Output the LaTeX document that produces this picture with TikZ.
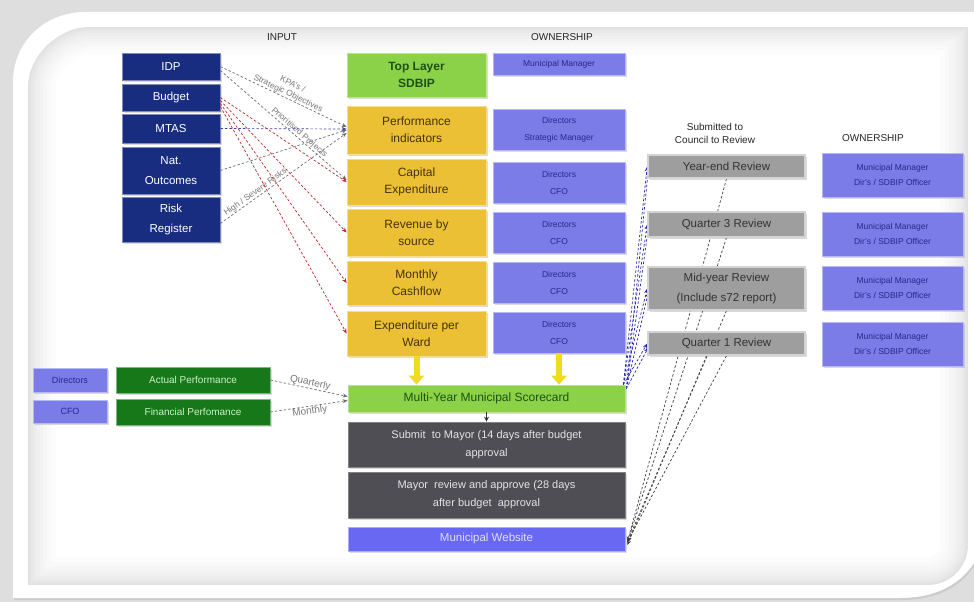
\documentclass[tikz,border=0pt]{standalone}
\usepackage{fontspec}
\setmainfont{Liberation Sans}
\usetikzlibrary{arrows.meta,shadows,backgrounds,calc}
\definecolor{navyc}{RGB}{24,44,128}
\definecolor{topgreen}{RGB}{140,210,72}
\definecolor{topgreentxt}{RGB}{30,80,20}
\definecolor{goldc}{RGB}{236,192,52}
\definecolor{goldtxt}{RGB}{70,50,10}
\definecolor{purplec}{RGB}{124,124,232}
\definecolor{purpletxt}{RGB}{40,40,140}
\definecolor{dgreen}{RGB}{22,120,24}
\definecolor{dgreentxt}{RGB}{205,240,205}
\definecolor{dgray}{RGB}{78,78,84}
\definecolor{dgraytxt}{RGB}{228,228,228}
\definecolor{revgray}{RGB}{158,158,158}
\definecolor{webc}{RGB}{104,104,242}
\definecolor{webtxt}{RGB}{222,222,255}
\definecolor{yelarrow}{RGB}{240,220,30}
\definecolor{redline}{RGB}{190,40,40}
\definecolor{blueline}{RGB}{40,40,170}
\definecolor{grayline}{RGB}{110,110,120}
\definecolor{labelgray}{RGB}{120,120,120}
\begin{document}
\begin{tikzpicture}[x=1pt,y=-1pt,
  base/.style={draw, line width=0.7pt, align=center, inner sep=1pt,
    drop shadow={opacity=0.28, shadow xshift=2pt, shadow yshift=-2pt}},
  navybox/.style={base, fill=navyc, draw=navyc!55!white, text=white,
    font=\fontsize{11.5}{20}\selectfont, minimum width=98pt},
  topbox/.style={base, fill=topgreen, draw=topgreen!60!white, text=topgreentxt,
    font=\bfseries\fontsize{12}{17}\selectfont, minimum width=139pt},
  goldbox/.style={base, fill=goldc, draw=goldc!55!white, text=goldtxt,
    font=\fontsize{12}{17}\selectfont, minimum width=139pt},
  ownbox/.style={base, fill=purplec, draw=purplec!55!white, text=purpletxt,
    font=\fontsize{8.5}{17}\selectfont, minimum width=132pt},
  greenbox/.style={base, fill=dgreen, draw=dgreen!55!white, text=dgreentxt,
    font=\fontsize{10}{12}\selectfont, minimum width=154pt},
  smallown/.style={base, fill=purplec, draw=purplec!55!white, text=purpletxt,
    font=\fontsize{9}{12}\selectfont, minimum width=74pt},
  scorebox/.style={base, fill=topgreen, draw=topgreen!60!white, text=topgreentxt,
    font=\fontsize{12}{15}\selectfont, minimum width=277pt},
  graybox/.style={base, fill=dgray, draw=dgray!70!white, text=dgraytxt,
    font=\fontsize{11}{18}\selectfont, minimum width=277pt},
  webbox/.style={base, fill=webc, draw=webc!55!white, text=webtxt,
    font=\fontsize{11.5}{14}\selectfont, minimum width=277pt},
  revbox/.style={base, fill=revgray, draw=revgray!45!white, line width=1.5pt, text=black!80,
    font=\fontsize{11.5}{20}\selectfont, minimum width=157pt},
  rownbox/.style={base, fill=purplec, draw=purplec!55!white, text=purpletxt,
    font=\fontsize{8.5}{15}\selectfont, minimum width=141pt, minimum height=44pt},
  hdr/.style={font=\fontsize{10}{13}\selectfont, text=black!85, align=center},
  lbl/.style={font=\fontsize{8.5}{10}\selectfont, text=labelgray, align=center, inner sep=0.5pt},
  dsh/.style={dash pattern=on 2.5pt off 2pt, line width=0.7pt},
  tip/.style={-{Stealth[length=5pt,width=4pt]}},
  yarrow/.style={yelarrow, line width=6pt, -{Triangle[width=15pt,length=9pt]}}
]
\useasboundingbox (0,0) rectangle (974,602);
\def\panelpath{(28,585) -- (28,87) .. controls (28,54) and (61,27) .. (88,27) -- (968,27) -- (968,545) .. controls (968,567) and (950,585) .. (928,585) -- cycle}
\begin{pgfonlayer}{background}
  \fill[black!13] (0,0) rectangle (974,602);
  \fill[black!20] (14,84) .. controls (14,44) and (46,14) .. (86,14) -- (990,14) -- (990,502) .. controls (990,562) and (962,600) .. (902,600) -- (14,600) -- cycle;
  \fill[white] (13,82) .. controls (13,42) and (45,12) .. (85,12) -- (990,12) -- (990,500) .. controls (990,560) and (960,598) .. (900,598) -- (13,598) -- cycle;
  \fill[white] \panelpath;
  \begin{scope}
    \clip \panelpath;
    \foreach \w in {56,46,38,30,24,18,13,9,6,3}{
      \draw[black, opacity=0.011, line width=\w pt] \panelpath;
    }
  \end{scope}
\end{pgfonlayer}

% headers
\node[hdr] (hin) at (282,37) {INPUT};
\node[hdr] (hown) at (562,37) {OWNERSHIP};
\node[hdr] (hsub) at (715,133) {Submitted to\\Council to Review};
\node[hdr] (hown2) at (873,138) {OWNERSHIP};

% inputs
\node[navybox, minimum height=27pt] (idp) at (171,66.5) {IDP};
\node[navybox, minimum height=27pt] (bud) at (171,97.5) {Budget};
\node[navybox, minimum height=29pt] (mtas) at (171,128.5) {MTAS};
\node[navybox, minimum height=47pt] (nat) at (171,170.5) {Nat.\\Outcomes};
\node[navybox, minimum height=45pt] (risk) at (171,219.5) {Risk\\Register};

% SDBIP column
\node[topbox, minimum height=44pt] (top) at (416.5,75) {Top Layer\\SDBIP};
\node[goldbox, minimum height=48pt] (pi) at (416.5,130) {Performance\\indicators};
\node[goldbox, minimum height=46pt] (ce) at (416.5,182) {Capital\\Expenditure};
\node[goldbox, minimum height=47pt] (rev) at (416.5,232.5) {Revenue by\\source};
\node[goldbox, minimum height=44pt] (mc) at (416.5,283) {Monthly\\Cashflow};
\node[goldbox, minimum height=45pt] (epw) at (416.5,333.5) {Expenditure per\\Ward};

% ownership column
\node[ownbox, minimum height=22pt, font=\fontsize{8.5}{10}\selectfont] (mm) at (559,64) {Municipal Manager};
\node[ownbox, minimum height=41pt] (o1) at (559,129.5) {Directors\\Strategic Manager};
\node[ownbox, minimum height=41pt] (o2) at (559,182.5) {Directors\\CFO};
\node[ownbox, minimum height=41pt] (o3) at (559,232.5) {Directors\\CFO};
\node[ownbox, minimum height=41pt] (o4) at (559,282.5) {Directors\\CFO};
\node[ownbox, minimum height=41pt] (o5) at (559,332.5) {Directors\\CFO};

% bottom stack
\node[scorebox, minimum height=27pt] (score) at (486.5,398.5) {Multi-Year Municipal Scorecard};
\node[graybox, minimum height=45pt] (sub) at (486.5,444.5) {Submit\ \ to Mayor (14 days after budget\\approval};
\node[graybox, minimum height=46pt] (may) at (486.5,495) {Mayor\ \ review and approve (28 days\\after budget\ \ approval};
\node[webbox, minimum height=24pt] (web) at (486.5,539) {Municipal Website};

% left performance
\node[smallown, minimum height=24pt] (dir) at (70,380) {Directors};
\node[smallown, minimum height=23pt] (cfo) at (70,411.5) {CFO};
\node[greenbox, minimum height=26pt] (ap) at (193,380) {Actual Performance};
\node[greenbox, minimum height=26pt] (fp) at (193,412) {Financial Perfomance};

% reviews
\node[revbox, minimum height=23pt] (ye) at (726.5,166.5) {Year-end Review};
\node[revbox, minimum height=25pt] (q3) at (726.5,224.5) {Quarter 3 Review};
\node[revbox, minimum height=43pt] (mid) at (726.5,288.5) {Mid-year Review\\(Include s72 report)};
\node[revbox, minimum height=23pt] (q1) at (726.5,343.5) {Quarter 1 Review};
\node[rownbox] (r1) at (892.5,175) {Municipal Manager\\Dir's / SDBIP Officer};
\node[rownbox] (r2) at (892.5,234) {Municipal Manager\\Dir's / SDBIP Officer};
\node[rownbox] (r3) at (892.5,288) {Municipal Manager\\Dir's / SDBIP Officer};
\node[rownbox] (r4) at (892.5,344) {Municipal Manager\\Dir's / SDBIP Officer};

% yellow block arrows
\draw[yarrow] (epw.south) -- (epw.south |- score.north);
\draw[yarrow] (o5.south) -- (o5.south |- score.north);
\draw[-{Stealth[length=5pt,width=5pt]}, line width=0.7pt, black!80] (score.south) -- (sub.north);

% input connectors
\draw[dsh, grayline, tip] (idp.east) -- node[lbl, sloped, above, pos=0.52] {KPA's /\\Strategic Objectives} ($(pi.west)+(0,-3)$);
\draw[dsh, grayline, tip] ($(idp.east)+(0,4)$) -- node[lbl, sloped, above, pos=0.6] {Prioritised Projects} ($(ce.west)+(0,-2)$);
\draw[dsh, blueline!70!gray, tip] (mtas.east) -- ($(pi.west)+(0,-1)$);
\draw[dsh, grayline, tip] (nat.east) -- (pi.west);
\draw[dsh, grayline, tip] ($(risk.east)+(0,4)$) -- node[lbl, sloped, above, pos=0.3] {High / Severe Risks} ($(pi.west)+(0,3)$);
\draw[dsh, redline, tip] (bud.east) -- (ce.west);
\draw[dsh, redline, tip] ($(bud.east)+(0,3)$) -- (rev.west);
\draw[dsh, redline, tip] ($(bud.east)+(0,6)$) -- (mc.west);
\draw[dsh, redline, tip] ($(bud.east)+(0,9)$) -- (epw.west);

% performance connectors
\draw[dsh, grayline, tip] (ap.east) -- node[lbl, sloped, above, font=\fontsize{10}{11}\selectfont] {Quarterly} ($(score.west)+(0,-2)$);
\draw[dsh, grayline, tip] (fp.east) -- node[lbl, sloped, below, font=\fontsize{10}{11}\selectfont] {Monthly} ($(score.west)+(0,2)$);

\begin{pgfonlayer}{background}
  % scorecard to reviews (blue)
  \foreach \t in {ye,q3,mid,q1}{
    \draw[dsh, blueline, tip] ($(score.north east)+(-2,0)$) -- (\t.west);
    \draw[dsh, blueline, tip] ($(score.north east)+(1,4)$) -- ($(\t.west)+(1,4)$);
  }
  % reviews to website (black)
  \foreach \t in {ye,q3,mid,q1}{
    \draw[dsh, black!75, tip] (\t.south) -- ($(web.east)+(2,3)$);
  }
  \draw[dsh, black!75, tip] ($(q1.south)+(-20,0)$) -- ($(web.east)+(2,6)$);
\end{pgfonlayer}
\end{tikzpicture}
\end{document}
